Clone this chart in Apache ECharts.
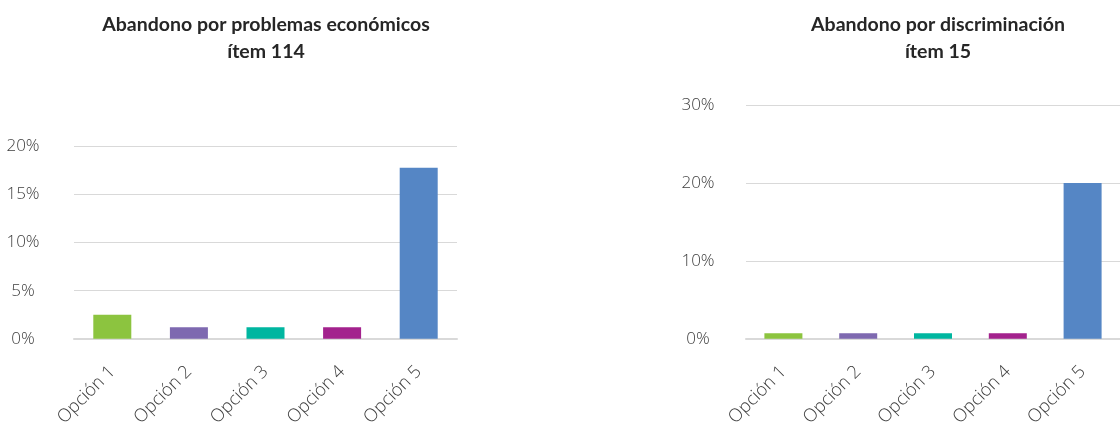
<!DOCTYPE html>
<html>
<head>
<meta charset="utf-8">
<script src="https://cdn.jsdelivr.net/npm/echarts@6/dist/echarts.min.js"></script>
<style>
html,body{margin:0;padding:0;background:#fff;}
#c{width:1120px;height:429px;}
</style>
</head>
<body>
<div id="c"></div>
<script>
const categories = ['Opción 1', 'Opción 2', 'Opción 3', 'Opción 4', 'Opción 5'];
const colors = ['#8cc43f', '#7e69b0', '#00b6a0', '#a3228d', '#5586c5'];
const leftTitle = 'Abandono por problemas económicos\nítem 114';
const rightTitle = 'Abandono por discriminación\nítem 15';
const leftValues = [2.5, 1.2, 1.2, 1.2, 17.8];
const rightValues = [0.7, 0.7, 0.7, 0.7, 20];
const leftTicks = { min: 0, max: 20, interval: 5 };
const rightTicks = { min: 0, max: 30, interval: 10 };

const labelFont = "'Open Sans', 'Noto Sans', sans-serif";
const titleFont = "'Lato', 'Open Sans', sans-serif";

const chart = echarts.init(document.getElementById('c'), null, { renderer: 'canvas' });

function titleCfg(text, left) {
  return {
    text: text,
    left: left,
    top: 6,
    textAlign: 'center',
    textStyle: { fontFamily: titleFont, fontWeight: 'bold', fontSize: 19.5, color: '#262626', lineHeight: 27 }
  };
}
function xAxisCfg(gi) {
  return {
    type: 'category', gridIndex: gi, data: categories,
    axisTick: { show: false },
    axisLine: { lineStyle: { color: '#d9d9d9', width: 2 } },
    axisLabel: { interval: 0, rotate: 45, margin: 30, fontFamily: labelFont, fontWeight: 300, fontSize: 18, color: '#404040' }
  };
}
function yAxisCfg(gi, t, margin) {
  return {
    type: 'value', gridIndex: gi, min: t.min, max: t.max, interval: t.interval,
    axisLine: { show: false }, axisTick: { show: false },
    splitLine: { lineStyle: { color: '#d9d9d9', width: 1 } },
    axisLabel: { formatter: '{value}%', align: 'center', margin: margin, padding: [6, 0, 0, 0], fontFamily: labelFont, fontWeight: 300, fontSize: 17, color: '#404040' }
  };
}
function seriesCfg(gi, values) {
  return {
    type: 'bar', xAxisIndex: gi, yAxisIndex: gi, barWidth: 38,
    data: values.map((v, i) => ({ value: v, itemStyle: { color: colors[i] } })),
    silent: true
  };
}

chart.setOption({
  animation: false,
  title: [titleCfg(leftTitle, 261), titleCfg(rightTitle, 933)],
  grid: [
    { left: 74, top: 146.5, width: 383, height: 193.5 },
    { left: 746, top: 105, width: 377.5, height: 234.5 }
  ],
  xAxis: [xAxisCfg(0), xAxisCfg(1)],
  yAxis: [yAxisCfg(0, leftTicks, 51), yAxisCfg(1, rightTicks, 48)],
  series: [seriesCfg(0, leftValues), seriesCfg(1, rightValues)]
});
</script>
</body>
</html>
